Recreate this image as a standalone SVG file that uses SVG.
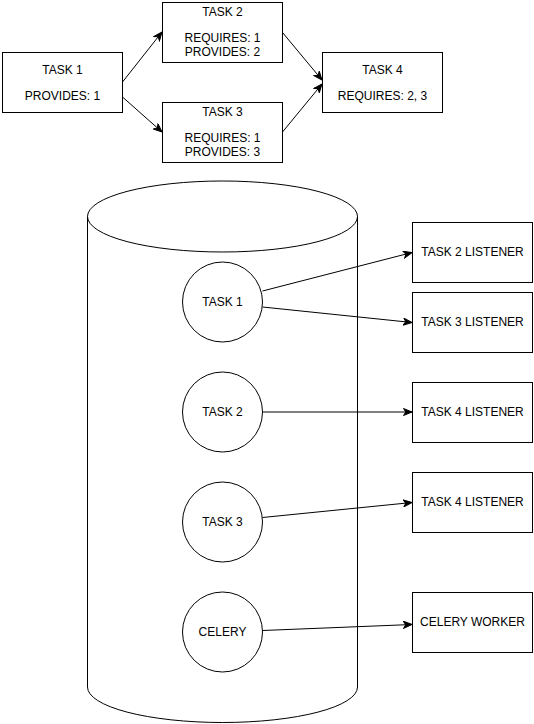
<svg xmlns="http://www.w3.org/2000/svg" width="534" height="724" viewBox="0 0 534 724">
<style>
.s{fill:#fff;stroke:#000;stroke-width:1}
.t{font-family:"Liberation Sans",Arial,Helvetica,sans-serif;font-size:12px;fill:#000;text-anchor:middle}
.c{fill:none;stroke:#000;stroke-width:1}
</style>
<defs>
<marker id="a" markerWidth="10" markerHeight="8" refX="9" refY="4" orient="auto" markerUnits="userSpaceOnUse">
<path d="M0.5,0.5 L9,4 L0.5,7.5 L2.8,4 Z" fill="#000" stroke="#000" stroke-width="1"/>
</marker>
</defs>
<rect width="534" height="724" fill="#fff"/>
<g id="top-task1"><rect class="s" x="2.5" y="52.5" width="120" height="60"/><text class="t" x="62.5" y="73.5">TASK 1</text><text class="t" x="62.5" y="100">PROVIDES: 1</text></g>
<g id="top-task2"><rect class="s" x="162.5" y="2.5" width="120" height="60"/><text class="t" x="222.5" y="16">TASK 2</text><text class="t" x="222.5" y="42">REQUIRES: 1</text><text class="t" x="222.5" y="55.5">PROVIDES: 2</text></g>
<g id="top-task3"><rect class="s" x="162.5" y="102.5" width="120" height="60"/><text class="t" x="222.5" y="116">TASK 3</text><text class="t" x="222.5" y="142">REQUIRES: 1</text><text class="t" x="222.5" y="155.5">PROVIDES: 3</text></g>
<g id="top-task4"><rect class="s" x="322.5" y="52.5" width="120" height="60"/><text class="t" x="382.5" y="73.5">TASK 4</text><text class="t" x="382.5" y="100">REQUIRES: 2, 3</text></g>
<g id="cylinder"><path class="s" d="M87.5,216.5 A135,35.5 0 0 1 357.5,216.5 L357.5,687 A135,35.5 0 0 1 87.5,687 Z"/><path class="c" d="M87.5,216.5 A135,35.5 0 0 0 357.5,216.5"/></g>
<g id="c-task1"><circle class="s" cx="222.5" cy="302" r="40"/><text class="t" x="222.5" y="306">TASK 1</text></g>
<g id="c-task2"><circle class="s" cx="222.5" cy="412" r="40"/><text class="t" x="222.5" y="416">TASK 2</text></g>
<g id="c-task3"><circle class="s" cx="222.5" cy="522" r="40"/><text class="t" x="222.5" y="526">TASK 3</text></g>
<g id="c-celery"><circle class="s" cx="222.5" cy="632" r="40"/><text class="t" x="222.5" y="636">CELERY</text></g>
<g id="l-task2"><rect class="s" x="412.5" y="222.5" width="120" height="60"/><text class="t" x="472.5" y="256">TASK 2 LISTENER</text></g>
<g id="l-task3"><rect class="s" x="412.5" y="292.5" width="120" height="60"/><text class="t" x="472.5" y="326">TASK 3 LISTENER</text></g>
<g id="l-task4a"><rect class="s" x="412.5" y="382.5" width="120" height="60"/><text class="t" x="472.5" y="416">TASK 4 LISTENER</text></g>
<g id="l-task4b"><rect class="s" x="412.5" y="472.5" width="120" height="60"/><text class="t" x="472.5" y="506">TASK 4 LISTENER</text></g>
<g id="l-celery"><rect class="s" x="412.5" y="592.5" width="120" height="60"/><text class="t" x="472.5" y="626">CELERY WORKER</text></g>
<g id="connectors">
<line class="c" x1="122.5" y1="82" x2="162" y2="32" marker-end="url(#a)"/>
<line class="c" x1="122.5" y1="97" x2="162" y2="132" marker-end="url(#a)"/>
<line class="c" x1="282.5" y1="32.5" x2="322" y2="80" marker-end="url(#a)"/>
<line class="c" x1="282.5" y1="132" x2="322" y2="84" marker-end="url(#a)"/>
<line class="c" x1="262.5" y1="291" x2="412" y2="252.5" marker-end="url(#a)"/>
<line class="c" x1="262.5" y1="307" x2="412" y2="322.5" marker-end="url(#a)"/>
<line class="c" x1="262.5" y1="412" x2="412" y2="412" marker-end="url(#a)"/>
<line class="c" x1="262.5" y1="517.5" x2="412" y2="502.5" marker-end="url(#a)"/>
<line class="c" x1="262.5" y1="630.5" x2="412" y2="624.5" marker-end="url(#a)"/>
</g>
</svg>
